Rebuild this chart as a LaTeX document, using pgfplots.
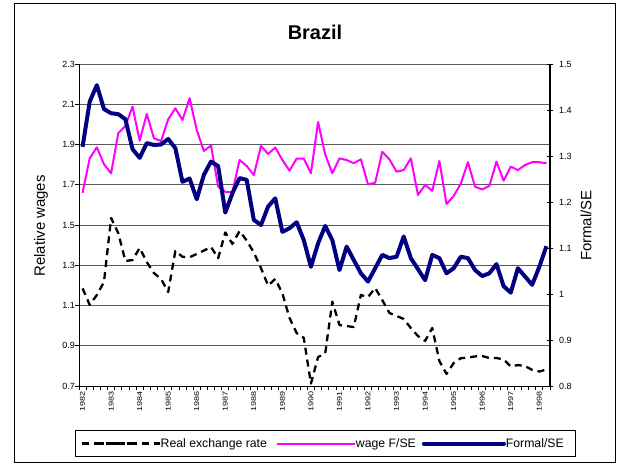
\documentclass[border=0pt]{standalone}
\usepackage{fontspec}
\setmainfont{Liberation Sans}
\usepackage{pgfplots}
\pgfplotsset{compat=1.18}
\usepackage{pgfplotstable}
\definecolor{navyx}{RGB}{0,0,128}
\definecolor{magx}{RGB}{255,0,255}
\newcommand\yr[1]{\scalebox{1.3}[1]{#1}}
\pgfplotsset{
  rerimg/.style={legend image code/.code={\draw[##1, dash pattern=on 7bp off 8bp] (0bp,0bp) -- (67bp,0bp); \path (0bp,0bp) -- (78bp,0bp);}},
  wageimg/.style={legend image code/.code={\draw[##1] (0bp,0bp) -- (76bp,0bp); \path (0bp,0bp) -- (78bp,0bp);}},
  formimg/.style={legend image code/.code={\draw[##1] (2bp,0bp) -- (78bp,0bp); \path (0bp,0bp) -- (80bp,0bp);}},
}
\pgfplotstableread{
i rer wage formal
0 1.185 1.660 1.320
1 1.103 1.831 1.418
2 1.152 1.886 1.454
3 1.217 1.802 1.402
4 1.535 1.757 1.393
5 1.460 1.956 1.391
6 1.321 1.992 1.380
7 1.326 2.088 1.315
8 1.386 1.919 1.296
9 1.316 2.052 1.328
10 1.261 1.931 1.324
11 1.232 1.917 1.325
12 1.167 2.025 1.337
13 1.371 2.080 1.317
14 1.342 2.022 1.244
15 1.340 2.130 1.251
16 1.356 1.972 1.206
17 1.373 1.868 1.259
18 1.391 1.895 1.288
19 1.335 1.690 1.278
20 1.463 1.665 1.177
21 1.406 1.665 1.219
22 1.470 1.823 1.252
23 1.423 1.793 1.248
24 1.363 1.748 1.161
25 1.286 1.893 1.150
26 1.199 1.853 1.190
27 1.232 1.885 1.208
28 1.160 1.823 1.135
29 1.038 1.770 1.143
30 0.963 1.830 1.156
31 0.939 1.830 1.117
32 0.712 1.757 1.059
33 0.844 2.012 1.110
34 0.862 1.850 1.148
35 1.119 1.757 1.117
36 1.003 1.831 1.052
37 0.998 1.823 1.103
38 0.993 1.807 1.074
39 1.152 1.826 1.045
40 1.142 1.702 1.027
41 1.187 1.710 1.056
42 1.127 1.864 1.085
43 1.063 1.826 1.078
44 1.048 1.765 1.081
45 1.033 1.773 1.125
46 0.988 1.831 1.078
47 0.948 1.649 1.054
48 0.924 1.699 1.030
49 0.988 1.670 1.085
50 0.824 1.818 1.078
51 0.760 1.604 1.045
52 0.814 1.644 1.056
53 0.838 1.705 1.081
54 0.841 1.812 1.078
55 0.847 1.690 1.052
56 0.849 1.677 1.039
57 0.839 1.694 1.045
58 0.839 1.815 1.065
59 0.832 1.720 1.017
60 0.797 1.790 1.003
61 0.804 1.773 1.056
62 0.799 1.798 1.038
63 0.780 1.812 1.020
64 0.772 1.812 1.059
65 0.782 1.807 1.104
}\data
\begin{document}
\begin{tikzpicture}
\useasboundingbox (-79bp,-78bp) rectangle (543bp,386bp);
\draw[black, line width=1bp] (-64bp,-76bp) rectangle (536bp,382bp);
\begin{axis}[
  at={(0,0)}, anchor=south west,
  scale only axis, width=471bp, height=322bp,
  xmin=0, xmax=66, ymin=0.7, ymax=2.3,
  axis x line*=bottom, axis y line*=left,
  axis line style={black, line width=1bp, -},
  tick align=outside,
  major tick length=4bp,
  tick style={black, line width=0.8bp},
  ytick={0.7,0.9,1.1,1.3,1.5,1.7,1.9,2.1,2.3},
  yticklabels={0.7,0.9,1.1,1.3,1.5,1.7,1.9,2.1,2.3},
  yticklabel style={font=\fontsize{9}{9}\selectfont, inner sep=0bp},
  ymajorgrids=true,
  grid style={black!65, line width=0.8bp},
  xtick={0,1,...,66},
  xticklabels={},
  extra x ticks={0.5,4.5,8.5,12.5,16.5,20.5,24.5,28.5,32.5,36.5,40.5,44.5,48.5,52.5,56.5,60.5,64.5},
  extra x tick labels={\yr{1982},\yr{1983},\yr{1984},\yr{1985},\yr{1986},\yr{1987},\yr{1988},\yr{1989},\yr{1990},\yr{1991},\yr{1992},\yr{1993},\yr{1994},\yr{1995},\yr{1996},\yr{1997},\yr{1998}},
  extra x tick style={major tick length=0bp, grid=none, xticklabel style={yshift=-5.5bp, rotate=90, anchor=east, inner sep=0bp, font=\fontsize{7}{7}\selectfont}},
  ylabel={Relative wages},
  every axis y label/.style={at={(axis description cs:-0.0807,0.497)}, rotate=90, anchor=center, font=\fontsize{15}{15}\selectfont},
  title={Brazil},
  every axis title/.style={at={(axis description cs:0.501,1.099)}, anchor=center, font=\fontsize{20}{20}\selectfont\bfseries},
  legend columns=3,
  legend style={at={(-0.0085,-0.1786)}, anchor=west, draw=black, line width=0.8bp, inner xsep=5bp, inner ysep=7.5bp, font=\fontsize{12.3}{14}\selectfont, /tikz/every even column/.append style={column sep=6bp}, nodes={inner sep=0bp}, cells={anchor=west}},
]
\addplot[black, line width=2.3bp, dash pattern=on 7bp off 5bp, line join=round, rerimg]
  table[x expr=\thisrow{i}+0.5, y=rer] {\data};
\addlegendentry{Real exchange rate\hspace*{3bp}}
\addplot[magx, line width=2bp, line join=round, wageimg]
  table[x expr=\thisrow{i}+0.5, y=wage] {\data};
\addlegendentry{wage F/SE}
\addlegendimage{navyx, line width=4bp, line cap=round, formimg}
\addlegendentry{Formal/SE\hspace*{7bp}}
\end{axis}
\begin{axis}[
  at={(0,0)}, anchor=south west,
  scale only axis, width=471bp, height=322bp,
  xmin=0, xmax=66, ymin=0.8, ymax=1.5,
  axis x line=none, axis y line*=right,
  axis line style={black, line width=1.2bp, -},
  tick align=center,
  major tick length=6bp,
  tick style={black, line width=0.8bp},
  ytick={0.8,0.9,1,1.1,1.2,1.3,1.4,1.5},
  yticklabels={0.8,0.9,1,1.1,1.2,1.3,1.4,1.5},
  yticklabel style={font=\fontsize{9}{9}\selectfont, inner sep=0bp, xshift=6bp},
  ylabel={Formal/SE},
  every axis y label/.style={at={(axis description cs:1.0765,0.498)}, rotate=90, anchor=center, font=\fontsize{15}{15}\selectfont},
]
\addplot[navyx, line width=4bp, line join=round]
  table[x expr=\thisrow{i}+0.5, y=formal] {\data};
\end{axis}
\end{tikzpicture}
\end{document}
